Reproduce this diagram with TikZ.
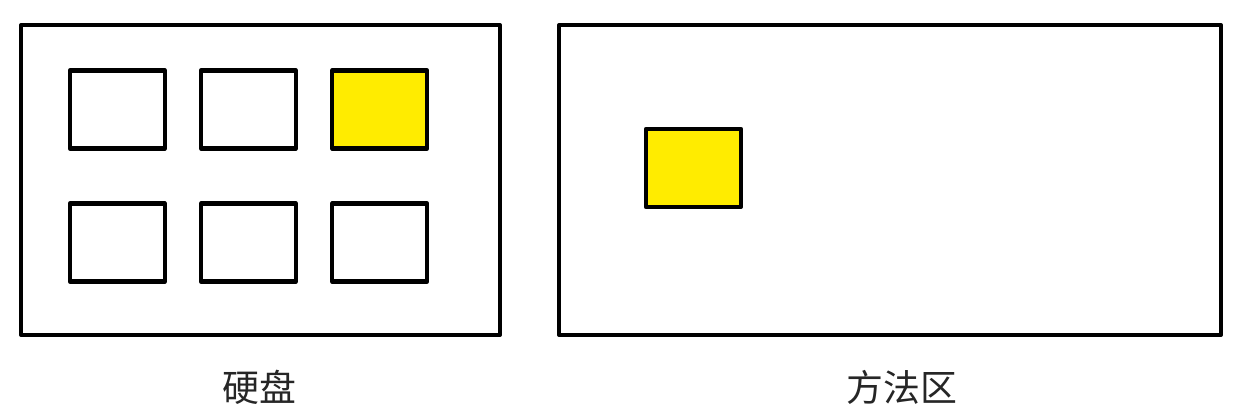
\documentclass[tikz,border=0pt]{standalone}
\usepackage{fontspec}
\newfontfamily\cjk{Noto Sans CJK SC}
\usepackage{tikz}
\usetikzlibrary{matrix,positioning}

\definecolor{slotyellow}{RGB}{255,236,0}

\begin{document}
\begin{tikzpicture}[x=0.02cm,y=-0.02cm,line width=2.4pt,line join=round,
      area/.style={draw,rectangle,inner sep=0pt,minimum height=6.2cm},
      slot/.style={draw,rectangle,inner sep=0pt,minimum width=1.9cm,minimum height=1.56cm},
      slots/.style={matrix of nodes,nodes in empty cells,
      column sep=0.64cm,row sep=1.02cm,
      nodes={slot},
      row 1 column 3/.style={nodes={fill=slotyellow}}},
      caption/.style={font=\cjk\fontsize{21}{21}\selectfont,text=black!85}]

     \useasboundingbox (0,0) rectangle (1259,416);

     \node[area,minimum width=9.58cm] (disk) at (260.5,180) {};
     \node[area,minimum width=13.24cm] (method) at (890,180) {};

     % class files on the disk
     \matrix[slots] (files) at (248.5,176) {
     & & \\
     & & \\};

     \node[slot,fill=slotyellow] (loaded) at (693.5,168) {};

     \node[caption] (disklabel) at (259,387) {硬盘};
     \node[caption] (methodlabel) at (902,387) {方法区};

\end{tikzpicture}
\end{document}
